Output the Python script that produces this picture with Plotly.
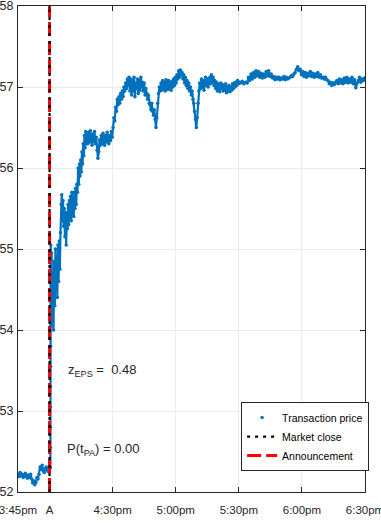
import plotly.graph_objects as go

# ---- data (minutes after 3:45pm, transaction price) ----
t_pre = [0, 0.5, 1, 1.5, 2, 2.5, 3, 3.5, 4, 4.5, 5, 5.5, 6, 6.5, 7, 7.5, 8, 8.5, 9, 9.5,
         10, 10.5, 11, 11.5, 12, 12.5, 13, 13.5, 14, 14.5]
p_pre = [52.22, 52.19, 52.24, 52.20, 52.22, 52.18, 52.21, 52.23, 52.19, 52.17, 52.21, 52.18,
         52.22, 52.16, 52.11, 52.14, 52.09, 52.12, 52.18, 52.16, 52.22, 52.31, 52.28, 52.33,
         52.26, 52.24, 52.29, 52.31, 52.27, 52.25]

t_jump = [15.4, 15.42, 15.44, 15.46, 15.48, 15.5, 15.52, 15.54, 15.56, 15.58, 15.6]
p_jump = [52.30, 52.55, 52.80, 53.05, 53.30, 53.55, 53.80, 54.05, 54.35, 54.70, 55.05]

t_early = [15.7, 16.0, 16.3, 16.6, 16.9, 17.2, 17.5, 17.8, 18.1, 18.4, 18.7, 19.0, 19.3, 19.6, 19.9]
p_early = [54.10, 54.95, 54.05, 54.70, 54.00, 54.85, 54.30, 55.00, 54.50, 54.90, 54.40, 55.05,
           54.60, 55.10, 54.75]

t_rise = [20.2, 20.5, 20.8, 21.1, 21.4, 21.7, 22.0, 22.3, 22.6, 22.9, 23.2, 23.5, 23.8, 24.1,
          24.4, 24.7, 25.0, 25.3, 25.6, 25.9, 26.2, 26.5, 26.8, 27.1, 27.4, 27.7, 28.0, 28.3,
          28.6, 28.9, 29.2, 29.5, 29.8, 30.1, 30.4, 30.7, 31.0, 31.3, 31.6, 31.9, 32.2, 32.5, 32.8]
p_rise = [55.20, 55.55, 55.67, 55.35, 55.60, 55.28, 55.50, 55.15, 55.45, 55.05, 55.35, 55.25,
          55.55, 55.30, 55.60, 55.40, 55.65, 55.35, 55.70, 55.45, 55.62, 55.40, 55.70, 55.50,
          55.75, 55.55, 55.80, 55.70, 56.00, 55.80, 56.05, 55.90, 56.10, 55.95, 56.20, 56.05,
          56.30, 56.15, 56.40, 56.25, 56.45, 56.30, 56.42]

t_plateau = [33.2, 33.6, 34.0, 34.4, 34.8, 35.2, 35.6, 36.0, 36.4, 36.8, 37.2, 37.6, 38.0, 38.4,
             38.8, 39.2, 39.6, 40.0, 40.4, 40.8, 41.2, 41.6, 42.0, 42.4, 42.8, 43.2, 43.6, 44.0,
             44.4, 44.8]
p_plateau = [56.30, 56.44, 56.32, 56.46, 56.35, 56.28, 56.42, 56.33, 56.45, 56.30, 56.38, 56.22,
             56.12, 56.20, 56.35, 56.28, 56.40, 56.30, 56.43, 56.36, 56.28, 56.40, 56.32, 56.44,
             56.36, 56.30, 56.40, 56.34, 56.45, 56.38]

t_climb = [45.2, 45.6, 46.0, 46.4, 46.8, 47.2, 47.6, 48.0, 48.4, 48.8, 49.2, 49.6, 50.0, 50.4,
           50.8, 51.2, 51.6, 52.0, 52.4, 52.8]
p_climb = [56.50, 56.62, 56.58, 56.75, 56.70, 56.85, 56.78, 56.88, 56.80, 56.92, 56.85, 56.95,
           56.88, 57.00, 56.95, 57.05, 56.98, 57.10, 57.02, 57.12]

t_band1 = [53.2, 53.6, 54.0, 54.4, 54.8, 55.2, 55.6, 56.0, 56.4, 56.8, 57.2, 57.6, 58.0, 58.4,
           58.8, 59.2, 59.6, 60.0, 60.4, 60.8]
p_band1 = [56.95, 57.10, 56.90, 57.08, 56.95, 57.12, 56.88, 57.05, 56.98, 57.10, 56.92, 57.08,
           56.96, 57.12, 57.00, 57.06, 56.95, 57.05, 56.90, 56.98]

t_dip1 = [61.2, 61.6, 62.0, 62.4, 62.8, 63.2, 63.6, 64.0, 64.4, 64.8, 65.2, 65.6, 66.0, 66.4,
          66.8, 67.2, 67.6]
p_dip1 = [56.92, 56.85, 56.90, 56.80, 56.78, 56.72, 56.80, 56.70, 56.65, 56.72, 56.60, 56.50,
          56.62, 56.80, 56.92, 57.00, 56.95]

t_band2 = [68.0, 68.4, 68.8, 69.2, 69.6, 70.0, 70.4, 70.8, 71.2, 71.6, 72.0, 72.4, 72.8, 73.2,
           73.6, 74.0, 74.4, 74.8, 75.2, 75.6, 76.0, 76.4, 76.8, 77.2, 77.6, 78.0, 78.4, 78.8,
           79.2, 79.6, 80.0, 80.4, 80.8, 81.2, 81.6, 82.0, 82.4, 82.8, 83.2, 83.6, 84.0, 84.4]
p_band2 = [57.05, 56.96, 57.08, 56.98, 57.06, 56.95, 57.09, 57.00, 56.97, 57.08, 56.98, 57.05,
           56.96, 57.07, 57.00, 57.10, 57.02, 57.12, 57.05, 57.15, 57.10, 57.20, 57.12, 57.21,
           57.15, 57.18, 57.10, 57.15, 57.05, 57.12, 57.02, 57.08, 56.98, 57.05, 56.95, 57.00,
           56.90, 56.95, 56.85, 56.80, 56.70, 56.60]

t_band3 = [84.8, 85.2, 85.6, 86.0, 86.4, 86.8, 87.2, 87.6, 88.0, 88.4, 88.8, 89.2, 89.6, 90.0,
           90.4, 90.8, 91.2, 91.6, 92.0, 92.4, 92.8, 93.2, 93.6, 94.0, 94.4, 94.8, 95.2, 95.6,
           96.0, 96.4, 96.8, 97.2, 97.6, 98.0, 98.4, 98.8, 99.2, 99.6, 100.0, 100.4, 100.8,
           101.2, 101.6, 102.0, 102.4, 102.8, 103.2, 103.6, 104.0, 104.4, 104.8, 105.2]
p_band3 = [56.50, 56.62, 56.80, 56.95, 57.05, 56.98, 57.10, 57.00, 57.08, 56.96, 57.05, 57.12,
           57.02, 57.10, 57.00, 57.08, 57.12, 57.04, 57.15, 57.06, 57.12, 57.02, 57.08, 56.98,
           57.06, 56.95, 57.04, 57.00, 56.94, 57.05, 56.98, 57.03, 56.95, 57.02, 56.96, 57.04,
           56.93, 57.00, 56.95, 57.02, 56.94, 57.00, 56.96, 57.04, 56.98, 57.05, 57.00, 57.06,
           57.02, 57.08, 57.04, 57.06]

t_band4 = [105.8, 106.6, 107.4, 108.2, 109.0, 109.6, 110.2, 110.8, 111.4, 112.0, 112.6, 113.2,
           113.8, 114.4, 115.0, 115.6, 116.2, 116.8, 117.4, 118.0, 118.6, 119.2, 119.8, 120.4,
           121.0, 121.6, 122.2, 122.8, 123.4, 124.0, 124.6, 125.2, 125.8, 126.4, 127.0, 127.6,
           128.2, 128.8, 129.4, 130.0, 130.6, 131.2, 131.8, 132.4, 133.0, 133.6]
p_band4 = [57.05, 57.07, 57.04, 57.06, 57.05, 57.12, 57.08, 57.16, 57.10, 57.18, 57.12, 57.20,
           57.14, 57.19, 57.12, 57.17, 57.11, 57.16, 57.12, 57.19, 57.14, 57.20, 57.13, 57.16,
           57.11, 57.13, 57.09, 57.12, 57.10, 57.12, 57.09, 57.11, 57.10, 57.13, 57.09, 57.12,
           57.10, 57.11, 57.12, 57.14, 57.13, 57.16, 57.18, 57.22, 57.25, 57.20]

t_band5 = [134.2, 134.8, 135.4, 136.0, 136.6, 137.2, 137.8, 138.4, 139.0, 139.6, 140.2, 140.8,
           141.4, 142.0, 142.6, 143.2, 143.8, 144.4, 145.0, 145.6, 146.2, 146.8, 147.4, 148.0,
           148.6, 149.2, 149.8, 150.4, 151.0, 151.6, 152.2, 152.8, 153.4, 154.0, 154.6, 155.2,
           155.8, 156.4, 157.0, 157.6, 158.2, 158.8, 159.4, 160.0, 160.6, 161.2, 161.8, 162.4,
           163.0, 163.6, 164.2, 164.8]
p_band5 = [57.22, 57.15, 57.19, 57.13, 57.18, 57.12, 57.17, 57.14, 57.19, 57.13, 57.17, 57.12,
           57.16, 57.13, 57.18, 57.12, 57.15, 57.11, 57.12, 57.10, 57.12, 57.09, 57.08, 57.04,
           57.06, 57.02, 57.05, 57.03, 57.06, 57.08, 57.04, 57.10, 57.05, 57.09, 57.04, 57.11,
           57.06, 57.12, 57.05, 57.10, 57.06, 57.12, 57.04, 57.09, 56.99, 57.05, 57.08, 57.12,
           57.06, 57.10, 57.08, 57.11]

market_close_t = 15
announcement_t = 15
y_range = [52, 58]
x_range = [0, 165]

tick_vals = [0, 15, 45, 75, 105, 135, 165]
tick_text = ["3:45pm", "A", "4:30pm", "5:00pm", "5:30pm", "6:00pm", "6:30pm"]
y_ticks = [52, 53, 54, 55, 56, 57, 58]

z_eps = 0.48
p_tpa = 0.00

# ---- assemble ----
times = (t_pre + t_jump + t_early + t_rise + t_plateau + t_climb + t_band1 + t_dip1 +
         t_band2 + t_band3 + t_band4 + t_band5)
prices = (p_pre + p_jump + p_early + p_rise + p_plateau + p_climb + p_band1 + p_dip1 +
          p_band2 + p_band3 + p_band4 + p_band5)

BLUE = "#0072BD"
FONT = "Liberation Sans Narrow, Liberation Sans, Arial, sans-serif"
AX = "#262626"

fig = go.Figure()
fig.add_trace(go.Scatter(x=times, y=prices, mode="lines",
                         line=dict(color=BLUE, width=2.2), showlegend=False,
                         hoverinfo="skip"))
fig.add_trace(go.Scatter(x=times, y=prices, mode="markers", name="Transaction price",
                         marker=dict(color=BLUE, size=3.5), legendrank=1))
fig.add_trace(go.Scatter(x=[announcement_t, announcement_t], y=y_range, mode="lines",
                         name="Announcement", legendrank=3,
                         line=dict(color="#FF0000", width=3, dash="14px,5px")))
fig.add_trace(go.Scatter(x=[market_close_t, market_close_t], y=y_range, mode="lines",
                         name="Market close", legendrank=2,
                         line=dict(color="#000000", width=2.2, dash="3px,5px")))

fig.add_annotation(x=22.8, y=53.50, xref="x", yref="y", xanchor="left", yanchor="middle",
                   text=f"z<sub>EPS</sub> =  {z_eps:.2f}", showarrow=False,
                   font=dict(family=FONT, size=13, color=AX))
fig.add_annotation(x=22.2, y=52.52, xref="x", yref="y", xanchor="left", yanchor="middle",
                   text=f"P(t<sub>PA</sub>) = {p_tpa:.2f}", showarrow=False,
                   font=dict(family=FONT, size=13, color=AX))

axis_common = dict(showline=True, linecolor=AX, linewidth=1, mirror="ticks",
                   ticks="inside", ticklen=5, tickcolor=AX,
                   showgrid=True, gridcolor="#EBEBEB", gridwidth=1, zeroline=False,
                   ticklabeloverflow="allow")

fig.update_layout(
    width=381, height=523,
    margin=dict(l=18, r=16, t=6, b=31),
    paper_bgcolor="white", plot_bgcolor="white",
    template="none",
    font=dict(family=FONT, size=12, color=AX),
    xaxis=dict(range=x_range, tickvals=tick_vals, ticktext=tick_text, ticklabelstandoff=7,
               tickfont=dict(family=FONT, size=11.5, color=AX), **axis_common),
    yaxis=dict(range=y_range, tickvals=y_ticks, ticklabelstandoff=1,
               tickfont=dict(family=FONT, size=12.5, color=AX), **axis_common),
    legend=dict(x=0.643, y=0.185, xanchor="left", yanchor="top",
                bgcolor="white", bordercolor=AX, borderwidth=1,
                font=dict(family=FONT, size=10.5, color="#000000"),
                tracegroupgap=0, itemwidth=30),
    showlegend=True,
)

fig.write_html("out.html", config={"displayModeBar": False},
               post_script="document.body.style.margin='0';")
